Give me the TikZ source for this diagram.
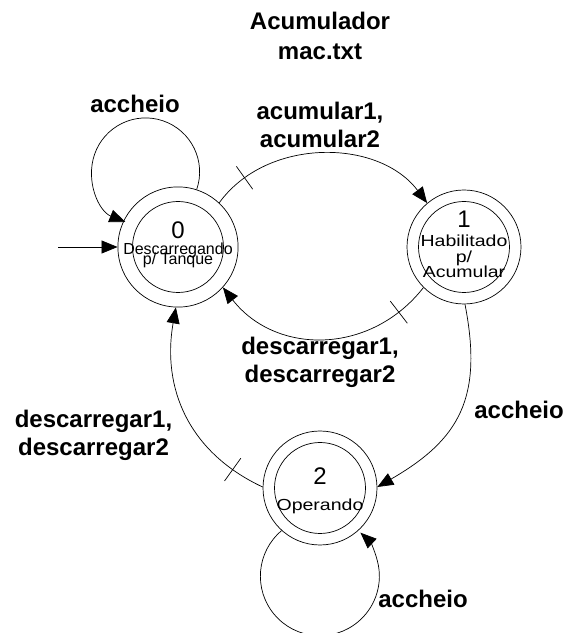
\documentclass[tikz,border=0pt]{standalone}
\usepackage{fontspec}
\setmainfont{Liberation Sans}
\usepackage{graphicx}
\usetikzlibrary{arrows.meta,decorations.markings}
\newcommand\statetext[1]{\vbox{\lineskiplimit=-100pt\baselineskip=16pt\halign{\hfil##\hfil\cr#1\crcr}}}
\newcommand\dig[1]{{\fontsize{24}{24}\selectfont #1}}
\newcommand\wide[1]{\scalebox{1.22}[1]{#1}}
\begin{document}
\begin{tikzpicture}[x=1pt,y=1pt,
  state/.style={circle, draw, line width=0.7pt, minimum size=114pt, inner sep=0pt,
    font=\fontsize{16}{16}\selectfont,
    path picture={\draw[line width=0.7pt] (path picture bounding box.center) circle[radius=45.5pt];}},
  lbl/.style={font=\fontsize{24}{28}\selectfont\bfseries, inner sep=0pt, anchor=base},
  conn/.style={line width=0.7pt, -{Triangle[length=16pt,width=13pt]}},
  ticked/.style={postaction={decorate, decoration={markings,
      mark=at position #1 with {\draw[-, line width=0.7pt] (0pt,-14pt) -- (0pt,14pt);}}}}
]
\useasboundingbox (0,0) rectangle (565,633);

% states
\node[state] (s0) at (178,386) {\statetext{\dig{0}\cr Descarregando\cr\noalign{\vskip-6pt} p/ Tanque\cr\noalign{\vskip4pt}}};
\node[state] (s1) at (464,386) {\statetext{\dig{1}\cr\noalign{\vskip3pt}\wide{Habilitado}\cr \wide{p/}\cr\noalign{\vskip-1pt}\wide{Acumular}\cr\noalign{\vskip5pt}}};
\node[state] (s2) at (320,145) {\statetext{\noalign{\vskip6pt}\dig{2}\cr\noalign{\vskip10pt}\wide{Operando}}};

% labels
\node[lbl] (ttl) at (320,603) {\begin{tabular}[t]{@{}c@{}}Acumulador\\[1.5pt]mac.txt\end{tabular}};
\node[lbl] (lacu) at (320,513.5) {\begin{tabular}[t]{@{}c@{}}acumular1,\\acumular2\end{tabular}};
\node[lbl] (ldes1) at (320,278) {\begin{tabular}[t]{@{}c@{}}descarregar1,\\descarregar2\end{tabular}};
\node[lbl] (ldes2) at (93.5,205) {\begin{tabular}[t]{@{}c@{}}descarregar1,\\descarregar2\end{tabular}};
\node[lbl] (lac0) at (135,520.7) {accheio};
\node[lbl] (lac1) at (519,214) {accheio};
\node[lbl] (lac2) at (423,25) {accheio};

% initial arrow
\coordinate (init) at (58,386);
\draw[conn] (init) -- (s0.west);

% transitions
\draw[conn, ticked=0.15] (s0.47) to[out=54, in=127] (s1.130);
\draw[conn, ticked=0.15] (s1.225) to[out=232, in=308, looseness=1.1] (s0.318);
\draw[conn] (s1.-89) to[out=-79, in=30, looseness=1.2] (s2.1);
\draw[conn, ticked=0.16] (s2.179) to[out=155, in=-100, looseness=1.05] (s0.-92);

% self loops
\draw[conn] (s0.72) arc[start angle=-19, end angle=248, radius=54pt];
\draw[conn] (s2.228) arc[start angle=130, end angle=407, radius=59.5pt];
\end{tikzpicture}
\end{document}
